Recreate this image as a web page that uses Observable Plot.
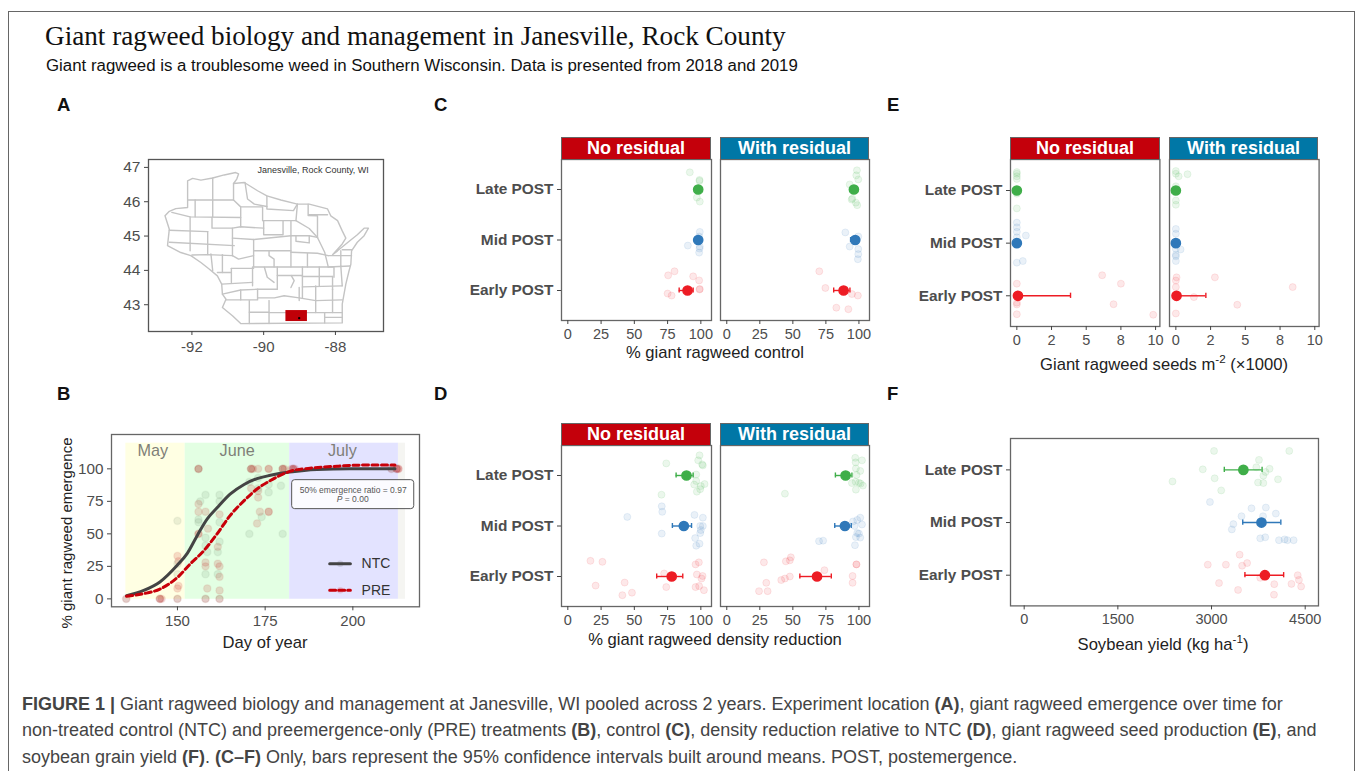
<!DOCTYPE html>
<html><head><meta charset="utf-8">
<script src="https://cdn.jsdelivr.net/npm/d3@7"></script>
<script src="https://cdn.jsdelivr.net/npm/@observablehq/plot@0.6"></script>
<style>
html,body{margin:0;padding:0;background:#fff;width:1358px;height:771px;overflow:hidden;font-family:"Liberation Sans",Arial,sans-serif}
#page{position:relative;width:1358px;height:771px;overflow:hidden}
.t{position:absolute;white-space:nowrap;line-height:1}
.c{transform:translate(-50%,-50%)}
.plot{position:absolute}
.plot svg{overflow:visible;display:block;background:transparent}
.strip{position:absolute;color:#fff;font-weight:bold;font-size:18px;text-align:center;box-sizing:border-box;border:1px solid #666;border-bottom:0}
sup{font-size:.7em;line-height:0}
</style></head><body><div id="page"></div>
<script>
const rowNames = {1:"Early POST",2:"Mid POST",3:"Late POST"};
const green="#3fae49", blue="#2f78b9", red="#ed1c24";

// --- Panel C: % control. Each point: [value, vertical jitter in row units]
const cNoLate=[[91.7,.34],[99,.19],[99,.17],[97,-.16],[99.2,-.24],[98,.02]];
const cNoMid=[[99.2,.16],[98.7,.07],[90.2,-.11],[99.2,-.13],[99,-.17],[98.7,-.25]];
const cNoEarly=[[80.2,.38],[75.4,.30],[94.2,.28],[98.7,.2],[99.2,.03],[99,.02],[75,-.06],[78,-.1]];
const cNoMeans=[[90,83.7,94.2],[98,96,99.5],[98,96,99.5]];
const cWithLate=[[98.5,.38],[98,.28],[99.5,.2],[93,.1],[95,-.18],[94.5,-.2],[97.7,-.26],[98.7,-.31]];
const cWithMid=[[89.7,.15],[99.5,.07],[93,-.13],[99.5,-.18],[99.5,-.28],[99.2,-.38]];
const cWithEarly=[[70,.38],[74.6,.05],[94.7,-.07],[99.2,-.1],[82.9,-.34],[92,-.37]];
const cWithMeans=[[88.4,80.9,93.2],[97.2,93.7,99.5],[96.2,94.5,98]];
// --- Panel D: % density reduction
const dNoLate=[[74,.24],[99,.40],[98,.30],[101,.22],[101.5,.2],[96.5,.02],[96.5,-.11],[95,-.18],[102.8,-.17],[100,-.21],[97,-.32],[70.4,-.38],[99.5,-.27]];
const dNoMid=[[70.6,.39],[71,.28],[44.7,.18],[95.2,.22],[101.5,.165],[99.5,0],[101.5,0],[100,-.08],[99.5,-.14],[70.6,-.15],[95.7,-.24],[99,-.35],[96.5,-.39]];
const dNoEarly=[[17,.31],[26,.29],[98.5,.28],[96,.24],[72.4,.06],[97,.04],[101.3,.01],[100.5,-.04],[42.7,-.12],[20.9,-.18],[74,-.21],[96,-.21],[98.7,-.19],[102.3,-.27],[48.2,-.32],[41,-.37]];
const dNoMeans=[[78.1,66.8,86.4],[87.2,78.6,93],[89.2,81.4,94.2]];
const dWithLate=[[97.2,.35],[102.3,.30],[97.5,.26],[97.7,.14],[101,.09],[98.2,.01],[94.7,-.15],[97.5,-.125],[100,-.145],[101.3,-.16],[103,-.2],[97.7,-.28],[44,-.36]];
const dWithMid=[[101,.165],[98.7,.12],[95.5,.09],[102.3,.03],[96.7,0],[98.7,-.14],[100,-.15],[97.7,-.22],[101,-.23],[69.8,-.3],[72.9,-.29],[97,-.38]];
const dWithEarly=[[48.5,.38],[44.7,.3],[47.7,.32],[28.1,.28],[98.2,.24],[98,.24],[73.9,.125],[47.7,0],[44,-.04],[41.2,-.07],[95.2,.01],[95.2,-.125],[29.9,-.125],[24.4,-.29],[30.9,-.29]];
const dWithMeans=[[68.3,55.3,79.1],[89.4,81.7,94.2],[89.9,82.2,94.7]];
// --- Panel E: seeds per m2 (x1000)
const eNoLate=[[0,.35],[0,.32],[0,.27],[0,.22],[0,-.06],[0,-.34]];
const eNoMid=[[0,.39],[0,.30],[0,.215],[.65,.145],[0,.11],[.43,-.34],[0,-.37]];
const eNoEarly=[[6.15,.39],[0,.23],[7.5,.23],[0,-.13],[0,-.165],[6.97,-.16],[0,-.35],[9.83,-.36]];
const eNoMeans=[[.08,0,3.87],[0,0,0],[0,0,0]];
const eWithLate=[[0,.37],[.2,.27],[.84,.31],[0,.32],[0,.08],[0,-.19],[0,-.27]];
const eWithMid=[[0,.27],[0,.18],[.34,-.12],[0,-.22],[0,-.25],[0,-.34],[0,-.11]];
const eWithEarly=[[.05,.35],[0,.29],[2.81,.35],[0,.165],[8.41,.165],[1.3,-.025],[4.42,-.17],[0,-.335]];
const eWithMeans=[[.05,0,2.16],[0,0,0],[0,0,0]];
// --- Panel F: soybean yield
const fLate=[[3040,.36],[4245,.36],[3760,.19],[3717,.05],[3930,.02],[3865,-.04],[3830,-.11],[2860,.01],[3050,-.16],[4065,-.18],[2375,-.22],[3745,-.24],[3830,-.25],[3155,-.39]];
const fMid=[[2975,.39],[3870,.285],[3640,.27],[4030,.17],[3480,.12],[3825,.12],[3350,-.03],[3325,-.13],[3780,-.3],[3860,-.28],[4080,-.335],[4170,-.32],[4215,-.335],[4315,-.335]];
const fEarly=[[3450,.39],[3570,.23],[2940,.2],[3230,.2],[3490,.18],[4380,0],[4400,-.09],[3780,-.05],[3120,-.15],[4005,-.17],[4280,-.165],[4435,-.215],[3425,-.28],[4000,-.37]];
const fMeans=[[3855,3535,4155],[3800,3500,4110],[3510,3205,3810]];
// --- Panel B: emergence [day, %]
const ntcPoints=[[135.4,0],[145,0],[150,0],[158,0],[162,0],[150,60],[150,27],[150,19],[156.5,75],[158,80],[156,61],[156,59],[158,47],[158,41],[158.5,36],[158,19],[162,80],[162,75],[162,59],[162,44],[161.5,36],[161.5,19],[170.5,90],[173,93],[173,85],[174,63],[176,82],[176,88],[179.5,87],[170.5,50],[180,50],[156,100],[171,100],[180,100],[183,100],[211,100],[212.5,100]];
const prePoints=[[135.4,0],[145,0],[145.5,0],[145,0],[150,0],[158,0],[162,0],[150,33],[150.3,29],[150,8],[150.3,10],[156,73],[156,67],[158,67],[156,50],[156,50],[158.7,54],[158,28],[158,25],[158.5,8],[162,65],[161.5,27],[162,25],[162,17],[162,6.5],[161.5,40],[156,100],[156,100],[171,100],[171.5,100],[171,100],[173,100],[176,100],[176,100],[180,100],[180,100],[180.5,100],[183,100],[182.5,100],[183.5,100],[183,100],[211,100],[212.5,100],[212.5,100],[213,100],[213,100],[171,85],[173,83],[173,78],[173.5,67],[176,67],[176,67],[172.7,58]];
const ntcCurve=[[135.5,2.5],[140.4,6.5],[145,13],[150,26],[152.8,35],[155.7,49],[158.5,61.5],[161.3,70],[165,80.5],[169,88],[172.7,92.5],[176.5,95],[182,97.5],[189.8,99.5],[199,100],[212,100]];
const preCurve=[[135.5,2],[140.4,4],[145,7.5],[150,16.5],[153.7,27],[157.5,37],[161.3,50],[165,64],[169,75.5],[172.7,84.5],[176.5,91],[182,98],[187.8,100.5],[195.5,102],[205,103],[212,103]];
const months=[["May",135.3,152.2,"#ffffe3",143],["June",152.2,182,"#e3ffe3",167],["July",182,213,"#e3e3ff",197]];
const monthTail=[213,215];
const ratioLines=["50% emergence ratio = 0.97"];
const bLegend=[["NTC",27,"#444",null],["PRE",6.6,"#c8000a","6,3"]];
// --- Panel A: Wisconsin [lon, lat]
const wiOutline=[[-92.75,45.59],[-92.63,45.72],[-92.45,45.8],[-92.12,45.83],[-92.12,46.61],[-91.98,46.68],[-91.75,46.63],[-91.42,46.69],[-91.10,46.78],[-90.78,46.85],[-90.70,46.81],[-90.75,46.66],[-90.84,46.53],[-90.54,46.56],[-90.17,46.32],[-89.91,46.17],[-89.52,46.05],[-89.06,45.93],[-88.73,45.93],[-88.22,45.79],[-88.13,45.59],[-87.94,45.45],[-87.81,45.15],[-87.71,44.94],[-87.81,44.77],[-88.08,44.46],[-87.94,44.57],[-87.71,44.77],[-87.39,45.04],[-87.20,45.23],[-87.08,45.23],[-87.20,45.01],[-87.39,44.82],[-87.55,44.57],[-87.57,44.18],[-87.62,43.99],[-87.71,43.60],[-87.81,43.02],[-87.81,42.47],[-90.64,42.45],[-90.87,42.68],[-91.15,42.92],[-91.05,43.16],[-91.15,43.31],[-91.17,43.60],[-91.29,43.84],[-91.52,44.04],[-91.75,44.23],[-92.03,44.43],[-92.31,44.52],[-92.68,44.72],[-92.63,45.20],[-92.75,45.59]];
const wiCounties=[
[[-92.12,46.05],[-90.84,46.05]],[[-91.91,46.05],[-91.91,45.56]],[[-91.42,46.69],[-91.42,45.56]],
[[-90.84,46.53],[-90.84,46.05],[-90.64,45.85],[-90.64,45.27]],[[-90.64,45.85],[-90.03,45.85],[-90.03,45.45]],
[[-90.52,46.56],[-90.45,46.08],[-90.26,45.93],[-89.91,45.86]],[[-89.91,46.17],[-89.91,45.79],[-89.17,45.74],[-89.06,45.93]],
[[-89.06,45.93],[-89.10,45.45]],[[-90.03,45.45],[-89.10,45.45]],[[-88.76,45.93],[-88.76,45.62],[-88.22,45.62]],
[[-88.76,45.6],[-88.50,45.59],[-88.50,44.96]],[[-92.56,45.69],[-92.05,45.56],[-90.64,45.54]],[[-92.05,45.56],[-92.05,44.57]],
[[-92.63,45.17],[-91.56,45.13]],[[-92.63,44.82],[-90.82,44.72]],[[-91.56,45.13],[-91.56,44.46]],[[-91.44,45.54],[-91.44,45.23],[-90.87,45.23],[-90.87,44.43]],
[[-90.87,45.23],[-90.64,45.27],[-90,45.23]],[[-90,45.45],[-90,45.04],[-89.46,45.04],[-89.46,45.45]],[[-90.87,44.94],[-90.28,44.90],[-89.24,45.01]],
[[-90.28,44.9],[-90.28,44.1]],[[-89.24,45.45],[-89.24,44.1]],[[-90.28,44.57],[-89.24,44.57]],[[-89.85,44.57],[-89.85,44.43],[-89.71,44.33],[-89.71,44.10]],
[[-92,44.45],[-91.56,44.46],[-90.87,44.43]],[[-91.47,44.48],[-91.42,43.99]],[[-91.15,44.46],[-91.15,43.94]],[[-90.87,44.43],[-90.7,44.33],[-90.28,44.43]],
[[-91.29,43.94],[-90.90,43.94]],[[-90.90,44.06],[-90.28,44.06]],[[-90.90,44.06],[-90.90,43.65]],[[-91.17,43.60],[-90.31,43.65]],[[-90.31,44.1],[-90.31,43.55]],
[[-90.28,44.1],[-88.2,44.1],[-87.6,44.13]],[[-89.98,44.09],[-89.9,43.8],[-89.71,43.65]],[[-89.62,44.1],[-89.62,43.45]],[[-89.62,43.85],[-88.92,43.85]],
[[-89.23,43.85],[-89.15,43.7],[-89.24,43.5]],[[-88.92,44.1],[-88.92,43.2]],[[-88.45,44.1],[-88.45,43.55]],[[-88.92,43.82],[-88.08,43.82]],[[-88.92,43.52],[-87.81,43.55]],
[[-91.15,43.31],[-90.64,43.43],[-90.17,43.45],[-89.62,43.45]],[[-90.64,43.43],[-90.64,43.14],[-90.17,43.14],[-90.17,43.45]],[[-91.05,43.14],[-90.64,43.14]],
[[-90.4,43.12],[-90.4,42.45]],[[-90.4,42.78],[-89.85,42.78]],[[-89.85,43.12],[-89.85,42.45]],[[-90.17,43.2],[-89.7,43.2],[-89.43,43.26],[-89.01,43.2],[-88.55,43.12],[-87.81,43.14]],
[[-89.01,43.5],[-89.01,43.12]],[[-89.85,42.77],[-87.81,42.77]],[[-88.55,43.12],[-88.55,42.77]],[[-88.08,43.45],[-88.08,42.77]],[[-88.3,42.77],[-88.3,42.47]],[[-88.3,42.63],[-87.81,42.63]],
[[-88.55,43.55],[-88.55,43.12]],[[-88.08,43.82],[-88.08,43.45]],[[-88.78,44.49],[-88.78,44.1]],[[-89.24,44.53],[-88.5,44.5],[-88.2,44.43]],[[-88.50,44.96],[-88.3,44.53],[-88.2,44.1]],
[[-89.1,45.01],[-89.1,44.85],[-88.73,44.8],[-88.73,45.01],[-88.5,44.96]],[[-89.24,45.01],[-88.73,45.01]],[[-89.10,45.45],[-88.73,45.22],[-88.5,44.96]],
[[-88.2,44.43],[-87.55,44.43]],[[-87.85,44.57],[-87.85,44.13]],[[-87.55,44.6],[-87.81,44.6]],[[-88.2,44.1],[-88.04,44.1],[-88.04,43.8]],[[-87.85,44.13],[-87.81,43.55]]
];
const rockLon=[-89.38,-88.78], rockLat=[42.51,42.83];
const janesville=[-89.01,42.61];

const page=document.getElementById("page");
function add(html,css,cls){const d=document.createElement("div");d.className=cls||"t";d.style.cssText=css;d.innerHTML=html;page.appendChild(d);return d;}
function place(svg,left,top){const d=document.createElement("div");d.className="plot";d.style.left=left+"px";d.style.top=top+"px";d.appendChild(svg);page.appendChild(d);}
const toPts=(arr,row,color)=>arr.map(([v,o])=>({v,y:row+o,color}));

function dotPanel({groups,means,xd,ticks,fmt,left,right,top,bottom,yd,labels,strip,stripColor}){
  const pad={l:labels?110:2,r:20,b:30,t:2};
  const w=right-left,h=bottom-top;
  const colors={1:red,2:blue,3:green};
  const pts=[...toPts(groups[0],1,red),...toPts(groups[1],2,blue),...toPts(groups[2],3,green)];
  const ms=means.map((m,i)=>({row:i+1,m:m[0],lo:m[1],hi:m[2],color:colors[i+1]}));
  const chart=Plot.plot({
    width:w+pad.l+pad.r,height:h+pad.t+pad.b,marginLeft:pad.l,marginRight:pad.r,marginTop:pad.t,marginBottom:pad.b,
    style:{background:"transparent",fontFamily:"Liberation Sans, Arial, sans-serif"},
    x:{domain:xd,label:null,axis:null},y:{domain:yd,label:null,axis:null},
    marks:[
      Plot.dot(pts,{x:"v",y:"y",r:3.5,fill:d=>d.color,stroke:d=>d.color,fillOpacity:.1,strokeOpacity:.1,strokeWidth:1}),
      Plot.ruleY(ms,{y:"row",x1:"lo",x2:"hi",stroke:"color",strokeWidth:1.4}),
      Plot.ruleX(ms,{x:"lo",y1:d=>d.row-.05,y2:d=>d.row+.05,stroke:"color",strokeWidth:1.4}),
      Plot.ruleX(ms,{x:"hi",y1:d=>d.row-.05,y2:d=>d.row+.05,stroke:"color",strokeWidth:1.4}),
      Plot.dot(ms,{x:"m",y:"row",r:4.6,fill:"color",stroke:"color"}),
      Plot.frame({stroke:"#666",strokeWidth:1.3}),
      Plot.axisX({ticks,tickFormat:fmt||(d=>String(d)),label:null,tickSize:4,tickPadding:4,fontSize:14.5,color:"#4d4d4d",stroke:"#444"}),
      labels?Plot.axisY({ticks:[1,2,3],tickFormat:d=>rowNames[d],label:null,tickSize:4,tickPadding:4,fontSize:15.4,fontWeight:"bold",color:"#4d4d4d",stroke:"#444"}):null
    ]
  });
  place(chart,left-pad.l,top-pad.t);
  if(strip) add(strip,`left:${left}px;top:${top-22}px;width:${w}px;height:22px;line-height:21px;background:${stripColor}`,"strip");
}
const stripRed="#c4000b", stripBlue="#0077a6";
const pctD=[-4.75,108], pctTicks=[0,25,50,75,100];
const ydC=[.406,3.594], ydE=[.417,3.589];
const seedD=[-.457,10.31], seedTicks=[0,2.5,5,7.5,10], seedFmt=d=>({0:"0",2.5:"2",5:"5",7.5:"8",10:"10"})[d];

dotPanel({groups:[cNoEarly,cNoMid,cNoLate],means:cNoMeans,xd:pctD,ticks:pctTicks,left:561,right:711,top:159,bottom:320,yd:ydC,labels:true,strip:"No residual",stripColor:stripRed});
dotPanel({groups:[cWithEarly,cWithMid,cWithLate],means:cWithMeans,xd:pctD,ticks:pctTicks,left:720,right:869,top:159,bottom:320,yd:ydC,strip:"With residual",stripColor:stripBlue});
dotPanel({groups:[dNoEarly,dNoMid,dNoLate],means:dNoMeans,xd:pctD,ticks:pctTicks,left:561,right:711,top:445.3,bottom:606.3,yd:ydC,labels:true,strip:"No residual",stripColor:stripRed});
dotPanel({groups:[dWithEarly,dWithMid,dWithLate],means:dWithMeans,xd:pctD,ticks:pctTicks,left:720,right:869,top:445.3,bottom:606.3,yd:ydC,strip:"With residual",stripColor:stripBlue});
dotPanel({groups:[eNoEarly,eNoMid,eNoLate],means:eNoMeans,xd:seedD,ticks:seedTicks,fmt:seedFmt,left:1010.3,right:1159.7,top:159,bottom:326,yd:ydE,labels:true,strip:"No residual",stripColor:stripRed});
dotPanel({groups:[eWithEarly,eWithMid,eWithLate],means:eWithMeans,xd:seedD,ticks:seedTicks,fmt:seedFmt,left:1168.7,right:1318.3,top:159,bottom:326,yd:ydE,strip:"With residual",stripColor:stripBlue});
dotPanel({groups:[fEarly,fMid,fLate],means:fMeans,xd:[-219,4713],ticks:[0,1500,3000,4500],left:1010.3,right:1318.3,top:438.3,bottom:605.7,yd:[.417,3.596],labels:true});

// A map
{
  const pl=40,pb=30,pt=2,pr=10,w=235,h=172;
  const lines=[...wiCounties.flatMap((l,i)=>l.map(([lon,lat])=>({lon,lat,i:i+1}))),...wiOutline.map(([lon,lat])=>({lon,lat,i:0}))];
  const chart=Plot.plot({width:w+pl+pr,height:h+pt+pb,marginLeft:pl,marginRight:pr,marginTop:pt,marginBottom:pb,
    style:{background:"transparent",fontFamily:"Liberation Sans, Arial, sans-serif"},
    x:{domain:[-93.21,-86.66],label:null,axis:null},y:{domain:[42.22,47.23],label:null,axis:null},
    marks:[
      Plot.line(lines,{x:"lon",y:"lat",z:"i",stroke:"#c4c4c4",strokeWidth:1.4,curve:"linear"}),
      Plot.rect([{}],{x1:rockLon[0],x2:rockLon[1],y1:rockLat[0],y2:rockLat[1],fill:"#c00008"}),
      Plot.dot([janesville],{x:d=>d[0],y:d=>d[1],r:1.2,fill:"#000"}),
      Plot.text(["Janesville, Rock County, WI"],{x:-88.62,y:46.92,fontSize:9,fill:"#333"}),
      Plot.frame({stroke:"#555",strokeWidth:1.3}),
      Plot.axisX({ticks:[-92,-90,-88],tickFormat:d=>String(d),label:null,tickSize:4,tickPadding:6,fontSize:15,color:"#4d4d4d",stroke:"#444"}),
      Plot.axisY({ticks:[43,44,45,46,47],tickFormat:d=>String(d),label:null,tickSize:4,tickPadding:4,fontSize:15.5,color:"#4d4d4d",stroke:"#444"})
    ]});
  place(chart,147.7-pl,158.7-pt);
}
// B emergence
{
  const pl=44,pb=30,pt=2,pr=10,w=308,h=172.3;
  const cols=(arr)=>arr.map(([d,v])=>({d,v}));
  const legendDay=[193.4,199.3], legendDot=196.4;
  const chart=Plot.plot({width:w+pl+pr,height:h+pt+pb,marginLeft:pl,marginRight:pr,marginTop:pt,marginBottom:pb,
    style:{background:"transparent",fontFamily:"Liberation Sans, Arial, sans-serif"},
    x:{domain:[131.2,219],label:null,axis:null},y:{domain:[-6.1,126.4],label:null,axis:null},
    marks:[
      Plot.rect(months,{x1:d=>d[1],x2:d=>d[2],y1:-.3,y2:119.7,fill:d=>d[3]}),
      Plot.rect([monthTail],{x1:d=>d[0],x2:d=>d[1],y1:-.3,y2:119.7,fill:"#f5f5f2"}),
      Plot.text(months,{x:d=>d[4],y:114,text:d=>d[0],fontSize:16.2,fill:"#7f7f78"}),
      Plot.dot(cols(ntcPoints),{x:"d",y:"v",r:3.7,fill:"#4d6a4d",fillOpacity:.11,stroke:"#4d6a4d",strokeOpacity:.06}),
      Plot.dot(cols(prePoints),{x:"d",y:"v",r:3.7,fill:"#c00000",fillOpacity:.14,stroke:"#c00000",strokeOpacity:.06}),
      Plot.dot(bLegend,{x:legendDot,y:d=>d[1],r:3.2,fill:d=>d[2],fillOpacity:.15}),
      Plot.line(ntcCurve,{x:d=>d[0],y:d=>d[1],stroke:"#444",strokeWidth:3,curve:"monotone-x"}),
      Plot.line(preCurve,{x:d=>d[0],y:d=>d[1],stroke:"#c8000a",strokeWidth:3,strokeDasharray:"6,3.5",curve:"monotone-x"}),
      Plot.rect([{}],{x1:182.7,x2:217.5,y1:69,y2:91.3,fill:"#fff",fillOpacity:.85,stroke:"#555",strokeWidth:1,rx:3}),
      Plot.text(ratioLines,{x:200.1,y:83.5,fontSize:8.5,fill:"#555"}),
      ...bLegend.map(l=>Plot.line(legendDay,{x:d=>d,y:()=>l[1],stroke:l[2],strokeWidth:3,strokeDasharray:l[3]})),
      Plot.text(bLegend,{x:202.5,y:d=>d[1],text:d=>d[0],textAnchor:"start",fontSize:14,fill:"#333"}),
      Plot.frame({stroke:"#666",strokeWidth:1.3}),
      Plot.axisX({ticks:[150,175,200],tickFormat:d=>String(d),label:null,tickSize:4,tickPadding:5,fontSize:15,color:"#4d4d4d",stroke:"#444"}),
      Plot.axisY({ticks:[0,25,50,75,100],tickFormat:d=>String(d),label:null,tickSize:4,tickPadding:4,fontSize:15.3,color:"#4d4d4d",stroke:"#444"})
    ]});
  place(chart,111-pl,434-pt);
  add('<i>P</i> = 0.00','left:352.7px;top:499px;font-size:8.5px;color:#555','t c');
}
// text
const xlab="font-size:16.6px;color:#222;";
add('Giant ragweed biology and management in Janesville, Rock County','left:45px;top:23px;font-family:\'Liberation Serif\',serif;font-size:27.2px;color:#111');
add('Giant ragweed is a troublesome weed in Southern Wisconsin. Data is presented from 2018 and 2019','left:46px;top:58px;font-size:16.85px;color:#111');
[["A",57,96],["B",57,385],["C",434,96],["D",434,385],["E",887,96],["F",887,385]].forEach(([l,x,y])=>add(l,`left:${x}px;top:${y}px;font-size:18.5px;font-weight:bold;color:#111`));
add('% giant ragweed control',`left:715px;top:353px;${xlab}`,'t c');
add('% giant ragweed density reduction',`left:715px;top:640px;${xlab}`,'t c');
add('Giant ragweed seeds m<sup>-2</sup> (×1000)',`left:1164px;top:365px;${xlab}`,'t c');
add('Soybean yield (kg ha<sup>-1</sup>)',`left:1163px;top:645px;${xlab}`,'t c');
add('Day of year',`left:265px;top:643px;${xlab}`,'t c');
add('% giant ragweed emergence',`left:66px;top:533px;font-size:15px;color:#222;transform:translate(-50%,-50%) rotate(-90deg)`,'t');
const capStyle='font-size:18px;color:#444;left:22px;';
add('<b>FIGURE 1 |</b> Giant ragweed biology and management at Janesville, WI pooled across 2 years. Experiment location <b>(A)</b>, giant ragweed emergence over time for',capStyle+'top:695px');
add('non-treated control (NTC) and preemergence-only (PRE) treatments <b>(B)</b>, control <b>(C)</b>, density reduction relative to NTC <b>(D)</b>, giant ragweed seed production <b>(E)</b>, and',capStyle+'top:721px');
add('soybean grain yield <b>(F)</b>. <b>(C–F)</b> Only, bars represent the 95% confidence intervals built around means. POST, postemergence.',capStyle+'top:748px');
add('','position:absolute;left:8px;top:11px;width:1347px;height:780px;border:1.3px solid #666;box-sizing:border-box;pointer-events:none','');
</script></body></html>
